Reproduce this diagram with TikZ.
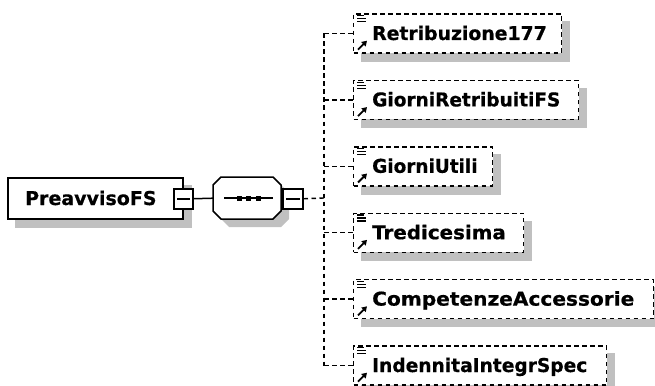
\documentclass[tikz,border=0pt]{standalone}
\usepackage{fontspec}
\setmainfont{DejaVu Sans}
\newfontfamily\lblfont{DejaVu Sans Bold}[FakeBold=0.6]
\usetikzlibrary{backgrounds,arrows.meta}
\definecolor{shadowgray}{RGB}{192,192,192}
\tikzset{
  box/.style={draw=black, fill=white, line width=1.5pt, inner sep=0pt, anchor=north west},
  childbox/.style={box, line width=1.4pt, dash pattern=on 4.5pt off 3.5pt},
  lbl/.style={font=\lblfont\fontsize{19}{19}\selectfont, anchor=base west, inner sep=0pt},
  conn/.style={line width=1.5pt, draw=black},
  dconn/.style={conn, line width=1.4pt, dash pattern=on 4.5pt off 3.5pt},
  shadowfill/.style={fill=shadowgray, draw=none},
  iconline/.style={line width=1.1pt},
  iconarrow/.style={line width=1.8pt, -{Triangle[length=5pt,width=6pt]}},
}
\begin{document}
\begin{tikzpicture}[x=1pt,y=-1pt]
\path[use as bounding box] (0,0) rectangle (655,385);

% main element
\node[box, minimum width=175pt, minimum height=41pt] (main) at (7,177) {};
\node[lbl] (mainlbl) at (25,205) {PreavvisoFS};
\node[box, minimum width=19pt, minimum height=20pt] (m1) at (173,188) {};
\draw[conn] ([xshift=4pt]m1.west) -- ([xshift=-4pt]m1.east);

% sequence compositor
\node[inner sep=0pt, minimum width=68pt, minimum height=42pt, anchor=north west] (seq) at (213,177) {};
\draw[conn, fill=white] (221,177) -- (273,177) -- (281,185) -- (281,211) -- (273,219)
  -- (221,219) -- (213,211) -- (213,185) -- cycle;
\draw[conn] (224,198) -- (273,198);
\foreach \dx in {239,248.5,258} \fill (\dx-2.5,195.5) rectangle (\dx+2.5,200.5);
\node[box, minimum width=20pt, minimum height=20pt] (m2) at (282,188) {};
\draw[conn] ([xshift=4pt]m2.west) -- ([xshift=-4pt]m2.east);

\draw[conn] (m1.east) -- (seq.west);

% children
\foreach \i/\txt/\rx/\cy/\sx in {
  1/Retribuzione177/561/33.5/0.99,
  2/GiorniRetribuitiFS/578/99.9/0.975,
  3/GiorniUtili/492/166.3/0.97,
  4/Tredicesima/523/232.7/1.045,
  5/CompetenzeAccessorie/653/299.1/1.06,
  6/IndennitaIntegrSpec/606/365.5/0.98}{
  \pgfmathsetmacro{\w}{\rx-353}
  \node[childbox, minimum width=\w pt, minimum height=39pt, anchor=west] (c\i) at (353,\cy) {};
  \path (c\i.west) ++(19,6.5) node[lbl] (t\i) {\scalebox{\sx}[1]{\txt}};
  \draw[iconline] ([shift={(4,2.5)}]c\i.north west) -- ++(7,0);
  \draw[iconline] ([shift={(4,5.5)}]c\i.north west) -- ++(9,0);
  \draw[iconline] ([shift={(4,8.5)}]c\i.north west) -- ++(9,0);
  \draw[iconarrow] ([shift={(5,-4)}]c\i.south west) -- ++(9,-9);
}

% connectors
\coordinate (spine) at (324,198);
\draw[dconn] (m2.east) -- (spine);
\draw[dconn] (c1.west -| spine) -- (c6.west -| spine);
\foreach \i in {1,...,6} \draw[dconn] (c\i.west -| spine) -- (c\i.west);

% shadows
\begin{scope}[on background layer]
  \fill[white] (0,0) rectangle (655,385);
  \fill[shadowfill] ([shift={(8,8)}]main.north west) rectangle ([shift={(8,8)}]main.south east);
  \fill[shadowfill] (229,185) -- (281,185) -- (289,193) -- (289,219) -- (281,227)
    -- (229,227) -- (221,219) -- (221,193) -- cycle;
  \foreach \i in {1,...,6}
    \fill[shadowfill] ([shift={(8,8)}]c\i.north west) rectangle ([shift={(8,8)}]c\i.south east);
\end{scope}
\end{tikzpicture}
\end{document}
